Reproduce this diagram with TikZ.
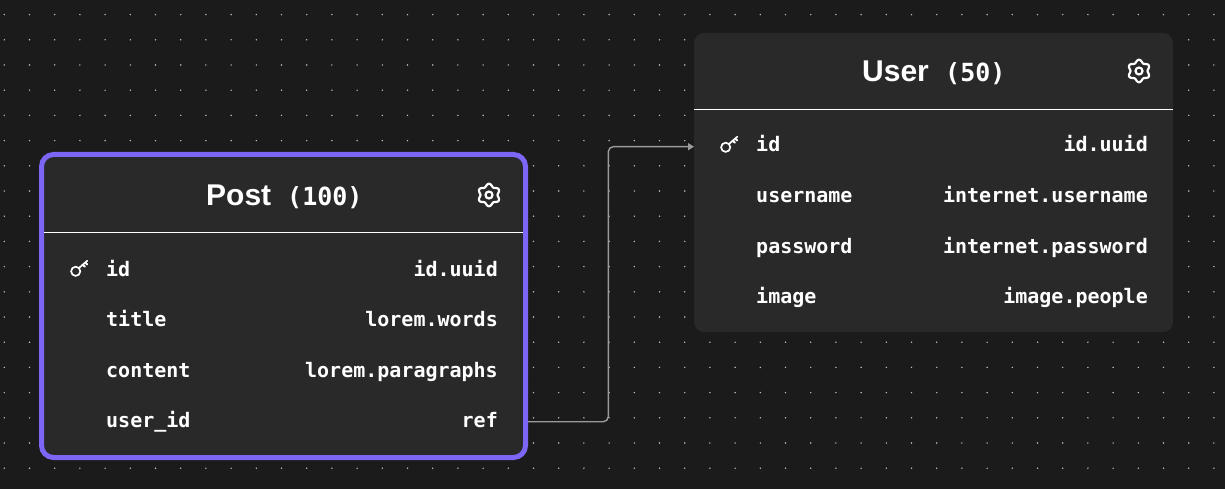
\documentclass[tikz,border=0pt]{standalone}
\usepackage{fontspec}
\usetikzlibrary{arrows.meta}
\setmainfont{Liberation Sans}
\newfontfamily\monof{DejaVu Sans Mono}
\definecolor{bgc}{HTML}{1B1B1B}
\definecolor{cardc}{HTML}{292929}
\definecolor{purp}{HTML}{7B66F5}
\definecolor{dotc}{HTML}{C0C0C0}
\definecolor{linkc}{HTML}{9A9A9A}
\tikzset{
  x=1pt,y=-1pt,
  cardbox/.style={fill=cardc,rounded corners=10pt,inner sep=0pt,outer sep=0pt,anchor=north west},
  selbox/.style={cardbox,draw=purp,line width=5pt,rounded corners=12pt,outer sep=2.5pt},
  fieldname/.style={anchor=base west,inner sep=0pt,text=white,font=\monof\bfseries\fontsize{20}{24}\selectfont},
  fieldgen/.style={anchor=base east,inner sep=0pt,text=white,font=\monof\bfseries\fontsize{20}{24}\selectfont},
  titlemain/.style={anchor=base west,inner sep=0pt,text=white,font=\bfseries\fontsize{30}{36}\selectfont},
  titlecount/.style={anchor=base west,inner sep=0pt,text=white,font=\monof\bfseries\fontsize{25}{29}\selectfont},
  divider/.style={white,line width=1pt},
  conn/.style={linkc,line width=1.4pt,rounded corners=5pt,-{Triangle[length=6pt,width=7pt]}},
  pics/gearicon/.style={code={
    \draw[white,line width=2.2pt,line join=round] plot[smooth cycle,samples=48,domain=0:352.5,variable=\t] ({(9.9+1.4*cos(6*(\t-30)))*cos(\t)},{(9.9+1.4*cos(6*(\t-30)))*sin(\t)});
    \draw[white,line width=2.2pt] (0,0) circle[radius=3.5];
  }},
  pics/keyicon/.style={code={
    \draw[white,line width=1.7pt] (0,0) circle[radius=4.6];
    \draw[white,line width=1.7pt,line cap=round] (3.3,-3.3) -- (11.5,-10.5);
    \draw[white,line width=2pt,line cap=round] (7,-6.6) -- (9.2,-4.6);
    \draw[white,line width=2pt,line cap=round] (9.6,-8.8) -- (11.4,-6.8);
  }}
}
\begin{document}
\begin{tikzpicture}
\useasboundingbox (0,0) rectangle (1225,489);
\fill[bgc] (0,0) rectangle (1225,489);
% dot grid
\foreach \i in {0,...,48}{
  \foreach \j in {0,...,19}{
    \fill[dotc] ({4.3+25.2*\i},{14.6+25.2*\j}) circle[radius=0.8];
  }
}
% cards
\node[cardbox,minimum width=479pt,minimum height=299pt] (user) at (694,33) {};
\node[selbox,minimum width=484pt,minimum height=303pt] (post) at (39,152) {};
% dividers
\coordinate (postdiv) at (0,232);
\coordinate (userdiv) at (0,109.3);
\draw[divider] (44,232) -- (523,232);
\draw[divider] (user.west |- userdiv) -- (user.east |- userdiv);
% titles
\node[titlemain] (posttitle) at (206,205) {Post};
\node[titlecount] (postcount) at (287,205) {(100)};
\node[titlemain] (usertitle) at (862,81.5) {User};
\node[titlecount] (usercount) at (945,81.5) {(50)};
% icons
\pic at (489,195) {gearicon};
\pic at (1139,71) {gearicon};
\pic at (75.7,271.3) {keyicon};
\pic at (725.7,147.3) {keyicon};
% Post fields
\node[fieldname] (p1) at (106,276) {id};
\node[fieldname] (p2) at (106,326) {title};
\node[fieldname] (p3) at (106,377) {content};
\node[fieldname] (p4) at (106,427) {user\_id};
\node[fieldgen] (pg1) at (498,276) {id.uuid};
\node[fieldgen] (pg2) at (498,326) {lorem.words};
\node[fieldgen] (pg3) at (498,377) {lorem.paragraphs};
\node[fieldgen] (pg4) at (498,427) {ref};
% User fields
\node[fieldname] (u1) at (756,152) {id};
\node[fieldname] (u2) at (756,202) {username};
\node[fieldname] (u3) at (756,253) {password};
\node[fieldname] (u4) at (756,303) {image};
\node[fieldgen] (ug1) at (1148,152) {id.uuid};
\node[fieldgen] (ug2) at (1148,202) {internet.username};
\node[fieldgen] (ug3) at (1148,253) {internet.password};
\node[fieldgen] (ug4) at (1148,303) {image.people};
% connector
\coordinate (portout) at (0,421.7);
\coordinate (portin) at (0,146.7);
\coordinate (bend) at (608.3,300);
\draw[conn] (post.east |- portout) -| (bend) |- (user.west |- portin);
\end{tikzpicture}
\end{document}
